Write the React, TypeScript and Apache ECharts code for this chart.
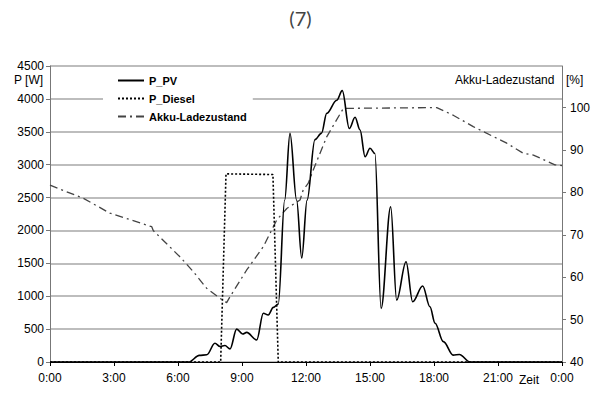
import React, { useEffect, useRef } from "react";
import * as echarts from "echarts";

const pvHours = [0, 6.5, 7.0, 7.35, 7.73, 7.97, 8.2, 8.44, 8.75, 9.03, 9.22, 9.69, 10.0, 10.23, 10.47, 10.7, 11.0, 11.25, 11.56, 11.8, 12.05, 12.42, 12.73, 12.97, 13.44, 13.7, 14.03, 14.3, 14.53, 14.77, 15.0, 15.23, 15.52, 15.97, 16.25, 16.69, 17.0, 17.47, 17.81, 18.05, 18.44, 18.9, 19.19, 19.69, 24];
const pvValues = [0, 0, 100, 110, 285, 235, 250, 200, 500, 425, 450, 335, 740, 715, 830, 880, 2460, 3475, 2460, 1580, 2460, 3380, 3480, 3780, 3980, 4125, 3550, 3720, 3530, 3120, 3250, 3170, 815, 2360, 940, 1525, 915, 1155, 840, 590, 310, 105, 115, 0, 0];

const dieselHours = [0, 8.0, 8.25, 10.45, 10.7, 24];
const dieselValues = [0, 0, 2860, 2850, 0, 0];

const akkuHours = [0, 1.56, 2.81, 4.77, 4.84, 6.09, 6.72, 7.34, 7.97, 8.28, 8.44, 9.22, 10.0, 10.63, 11.1, 11.72, 11.87, 12.1, 12.34, 12.97, 13.75, 18.13, 18.9, 19.84, 21.41, 22.19, 22.66, 23.67, 24];
const akkuValues = [81.7, 78.6, 75.1, 71.9, 71.0, 64.8, 61.3, 57.4, 55.0, 54.0, 55.4, 61.7, 67.2, 73.5, 76.2, 78.2, 80.6, 82.1, 85.3, 93.1, 99.8, 100, 98.2, 95.5, 91.6, 89.2, 88.8, 86.5, 86.3];

const seriesNames = ["P_PV", "P_Diesel", "Akku-Ladezustand"];

const pair = (xs: number[], ys: number[]) => xs.map((x, i) => [x, ys[i]]);

const FONT = "'Liberation Sans', Arial, sans-serif";

export default function App() {
  const ref = useRef<HTMLDivElement>(null);
  useEffect(() => {
    const chart = echarts.init(ref.current!, null, { renderer: "svg" });
    chart.setOption({
      animation: false,
      backgroundColor: "#fff",
      grid: { left: 50, right: 39, top: 66, bottom: 33 },
      legend: {
        orient: "vertical",
        left: 103,
        top: 71,
        padding: [4, 6, 4, 14],
        backgroundColor: "#fff",
        itemWidth: 26,
        itemHeight: 12,
        itemGap: 7,
        itemStyle: { color: "transparent", borderColor: "transparent", borderWidth: 0 },
        textStyle: { fontFamily: FONT, fontSize: 11, fontWeight: "bold", color: "#000" },
        data: seriesNames,
      },
      xAxis: {
        type: "value",
        min: 0,
        max: 24,
        interval: 3,
        axisLine: { lineStyle: { color: "#000", width: 1 } },
        axisTick: { show: true, length: 4, lineStyle: { color: "#000" } },
        splitLine: { show: false },
        axisLabel: {
          fontFamily: FONT,
          fontSize: 12,
          color: "#000",
          margin: 10,
          formatter: (v: number) => `${v % 24}:00`,
        },
      },
      yAxis: [
        {
          type: "value",
          min: 0,
          max: 4500,
          interval: 500,
          axisLine: { show: true, lineStyle: { color: "#777", width: 1 } },
          axisTick: { show: true, length: 4, lineStyle: { color: "#777" } },
          splitLine: { show: true, lineStyle: { color: "#bdbdbd", width: 2 } },
          axisLabel: { fontFamily: FONT, fontSize: 12, color: "#000", margin: 6, formatter: (v: number) => String(v) },
        },
        {
          type: "value",
          min: 40,
          max: 109.8,
          interval: 10,
          position: "right",
          axisLine: { show: true, lineStyle: { color: "#777", width: 1 } },
          axisTick: { show: true, length: 4, lineStyle: { color: "#777" } },
          splitLine: { show: false },
          axisLabel: {
            fontFamily: FONT,
            fontSize: 12,
            color: "#000",
            margin: 8,
            showMaxLabel: false,
            formatter: (v: number) => (v > 100 ? "" : String(v)),
          },
        },
      ],
      graphic: [
        {
          type: "text",
          left: "center",
          top: 8,
          style: { text: "(7)", fontFamily: "Lato, 'Open Sans', sans-serif", fontSize: 20, fill: "#444" },
        },
        {
          type: "text",
          x: 14,
          y: 74,
          style: { text: "P [W]", fontFamily: FONT, fontSize: 12, fill: "#000" },
        },
        {
          type: "text",
          x: 455,
          y: 74,
          style: { text: "Akku-Ladezustand", fontFamily: FONT, fontSize: 12, fill: "#000" },
        },
        {
          type: "text",
          x: 566,
          y: 74,
          style: { text: "[%]", fontFamily: FONT, fontSize: 12, fill: "#000" },
        },
        {
          type: "text",
          x: 519,
          y: 374,
          style: { text: "Zeit", fontFamily: FONT, fontSize: 12, fill: "#000" },
        },
      ],
      series: [
        {
          name: seriesNames[0],
          type: "line",
          yAxisIndex: 0,
          data: pair(pvHours, pvValues),
          smooth: 0.35,
          smoothMonotone: "x",
          symbol: "none",
          lineStyle: { color: "#000", width: 1.6, type: "solid" },
          itemStyle: { color: "#000" },
          z: 4,
        },
        {
          name: seriesNames[1],
          type: "line",
          yAxisIndex: 0,
          data: pair(dieselHours, dieselValues),
          symbol: "none",
          lineStyle: { color: "#000", width: 1.6, type: [2, 2] },
          itemStyle: { color: "#000" },
          z: 3,
        },
        {
          name: seriesNames[2],
          type: "line",
          yAxisIndex: 1,
          data: pair(akkuHours, akkuValues),
          symbol: "none",
          lineStyle: { color: "#444", width: 1.3, type: [8, 4, 2, 4] },
          itemStyle: { color: "#444" },
          z: 2,
        },
      ],
    });
    return () => chart.dispose();
  }, []);
  return <div ref={ref} style={{ position: "fixed", left: 0, top: 0, width: 601, height: 395 }} />;
}
